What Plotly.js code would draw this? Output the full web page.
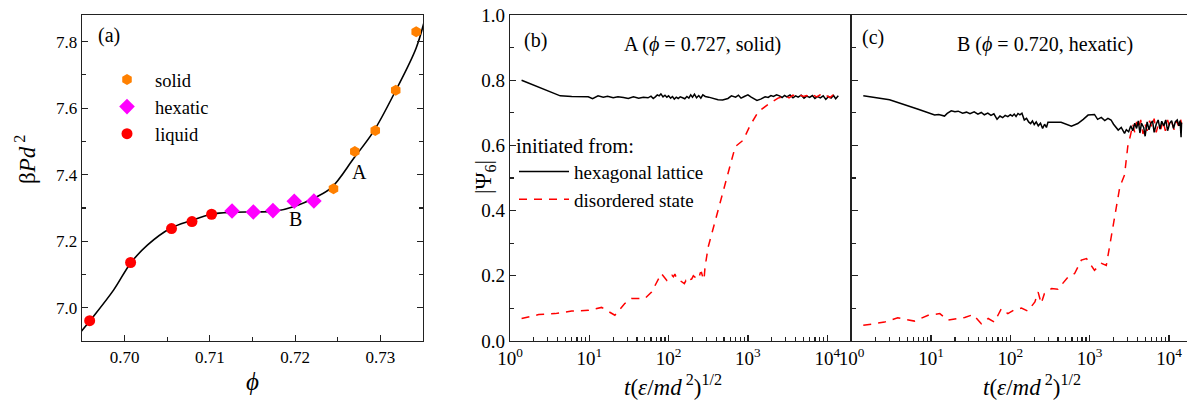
<!DOCTYPE html>
<html>
<head>
<meta charset="utf-8">
<script src="https://cdn.plot.ly/plotly-3.0.1.min.js"></script>
<style>html,body{margin:0;padding:0;background:#fff}#chart{width:1187px;height:401px}</style>
</head>
<body>
<div id="chart"></div>
<script>
// ---------- Panel (a) data ----------
const solidPhi   = [0.7245, 0.7270, 0.7294, 0.7318, 0.7342];
const solidP     = [7.358, 7.470, 7.533, 7.654, 7.830];
const hexaticPhi = [0.7126, 0.7151, 0.7174, 0.7199, 0.7222];
const hexaticP   = [7.291, 7.288, 7.292, 7.320, 7.321];
const liquidPhi  = [0.6959, 0.7007, 0.7055, 0.7079, 0.7102];
const liquidP    = [6.961, 7.136, 7.238, 7.259, 7.281];
const fitPhi = [0.6948, 0.6960, 0.6987, 0.7007, 0.7027, 0.7054, 0.7078, 0.7102, 0.7125, 0.7153, 0.7176, 0.7200, 0.7224, 0.7243, 0.7269, 0.7292, 0.7318, 0.7342, 0.7353];
const fitP   = [6.925, 6.963, 7.053, 7.134, 7.189, 7.239, 7.262, 7.281, 7.287, 7.288, 7.290, 7.305, 7.332, 7.362, 7.450, 7.530, 7.653, 7.781, 7.876];

// ---------- Panel (b) data: A (phi = 0.727, solid) ----------
const bHexT = [1.4, 2, 3, 4.3, 6, 8, 9.7, 11, 12.9, 15, 17, 20, 23, 27, 31, 36, 42, 48, 55, 60, 64, 68, 72, 76, 80, 85, 90, 95, 100, 106, 112, 118, 125, 132, 140, 150, 160, 170, 180, 190, 200, 212, 225, 240, 255, 270, 290, 320, 360, 420, 480, 560, 620, 700, 760, 820, 900, 1000, 1100, 1200, 1300, 1450, 1650, 1800, 1950, 2100, 2300, 2500, 2700, 2900, 3100, 3400, 3700, 4000, 4300, 4700, 5100, 5500, 6000, 6500, 7000, 7600, 8200, 8900, 9600, 10400, 11200, 12000, 12800, 13800];
const bHexV = [0.800, 0.785, 0.768, 0.752, 0.750, 0.749, 0.749, 0.743, 0.752, 0.748, 0.751, 0.746, 0.749, 0.747, 0.744, 0.749, 0.745, 0.748, 0.746, 0.751, 0.744, 0.749, 0.755, 0.752, 0.758, 0.749, 0.754, 0.748, 0.752, 0.745, 0.750, 0.742, 0.748, 0.744, 0.749, 0.746, 0.743, 0.750, 0.745, 0.755, 0.748, 0.757, 0.746, 0.753, 0.745, 0.755, 0.750, 0.748, 0.744, 0.740, 0.739, 0.744, 0.752, 0.748, 0.754, 0.745, 0.750, 0.755, 0.748, 0.744, 0.738, 0.742, 0.749, 0.747, 0.753, 0.750, 0.755, 0.752, 0.747, 0.753, 0.749, 0.755, 0.746, 0.752, 0.748, 0.754, 0.745, 0.751, 0.747, 0.753, 0.744, 0.750, 0.746, 0.752, 0.741, 0.750, 0.745, 0.753, 0.743, 0.752];
const bDisT = [1.4, 2.3, 3.7, 6, 9.7, 14.3, 21, 28, 34, 50, 61, 78, 81, 95, 100, 105, 110, 115, 120, 126, 132, 140, 150, 158, 165, 175, 186, 195, 205, 214, 225, 235, 245, 251, 260, 270, 275, 280, 288, 316, 380, 468, 562, 692, 871, 1070, 1350, 1820, 2400, 2700, 3000, 3300, 3700, 4100, 4500, 5000, 5500, 6100, 6700, 7400, 8100, 8900, 9800, 10800, 11800, 13000, 13800];
const bDisV = [0.069, 0.081, 0.084, 0.092, 0.094, 0.103, 0.079, 0.115, 0.130, 0.130, 0.150, 0.196, 0.207, 0.186, 0.190, 0.200, 0.202, 0.197, 0.205, 0.193, 0.186, 0.185, 0.180, 0.176, 0.185, 0.178, 0.188, 0.190, 0.200, 0.196, 0.195, 0.205, 0.200, 0.209, 0.210, 0.195, 0.188, 0.190, 0.227, 0.289, 0.360, 0.442, 0.509, 0.596, 0.616, 0.662, 0.703, 0.727, 0.745, 0.748, 0.752, 0.746, 0.754, 0.749, 0.755, 0.750, 0.753, 0.747, 0.754, 0.749, 0.755, 0.748, 0.753, 0.747, 0.754, 0.749, 0.752];

// ---------- Panel (c) data: B (phi = 0.720, hexatic) ----------
const cHexT = [1.4, 3, 6.9, 9, 11.1, 12.5, 14.8, 16, 18, 20, 22, 25, 28, 31, 35, 39, 43, 47, 52, 57, 62, 68, 74, 80, 86, 93, 100, 106, 112, 118, 125, 132, 140, 150, 160, 170, 180, 190, 200, 212, 225, 240, 255, 270, 285, 298, 340, 436, 589, 708, 830, 955, 1150, 1260, 1400, 1550, 1700, 1860, 2000, 2290, 2500, 2750, 2900, 3100, 3300, 3500, 3700, 3900, 4100, 4300, 4500, 4800, 5000, 5300, 5600, 5900, 6200, 6500, 6900, 7300, 7700, 8100, 8600, 9100, 9600, 10200, 10800, 11400, 12000, 12700, 13300, 13800, 14200, 14400];
const cHexV = [0.752, 0.740, 0.711, 0.700, 0.693, 0.695, 0.690, 0.698, 0.706, 0.703, 0.705, 0.699, 0.702, 0.697, 0.703, 0.696, 0.701, 0.694, 0.699, 0.692, 0.697, 0.680, 0.690, 0.685, 0.692, 0.688, 0.694, 0.690, 0.696, 0.689, 0.698, 0.694, 0.699, 0.678, 0.683, 0.672, 0.667, 0.675, 0.664, 0.672, 0.660, 0.668, 0.652, 0.665, 0.655, 0.671, 0.671, 0.671, 0.659, 0.667, 0.680, 0.693, 0.695, 0.680, 0.686, 0.676, 0.683, 0.678, 0.665, 0.647, 0.655, 0.637, 0.648, 0.642, 0.660, 0.645, 0.668, 0.652, 0.675, 0.638, 0.668, 0.655, 0.628, 0.672, 0.648, 0.668, 0.675, 0.640, 0.665, 0.678, 0.650, 0.674, 0.660, 0.678, 0.645, 0.668, 0.676, 0.652, 0.672, 0.678, 0.660, 0.676, 0.625, 0.670];
const cDisT = [1.4, 2.6, 3.8, 6.2, 9.2, 12.9, 16.4, 26.6, 33.9, 43, 52.5, 63, 77, 93, 113, 138, 166, 204, 224, 245, 269, 331, 398, 537, 646, 785, 912, 1150, 1410, 1620, 1780, 2090, 2400, 2750, 3020, 3310, 3500, 3700, 3900, 4100, 4400, 4700, 5000, 5300, 5700, 6100, 6500, 6900, 7400, 7900, 8400, 9000, 9600, 10200, 10900, 11600, 12400, 13200, 14000, 14400];
const cDisV = [0.048, 0.058, 0.071, 0.061, 0.079, 0.084, 0.064, 0.072, 0.081, 0.053, 0.069, 0.058, 0.099, 0.084, 0.096, 0.101, 0.092, 0.120, 0.150, 0.115, 0.146, 0.161, 0.159, 0.197, 0.207, 0.248, 0.253, 0.217, 0.238, 0.232, 0.289, 0.391, 0.473, 0.509, 0.596, 0.637, 0.665, 0.640, 0.672, 0.650, 0.678, 0.635, 0.665, 0.645, 0.676, 0.655, 0.682, 0.640, 0.668, 0.650, 0.675, 0.645, 0.678, 0.655, 0.670, 0.648, 0.676, 0.660, 0.680, 0.665];

// tick labels
const phiTicks = [0.70, 0.71, 0.72, 0.73];
const pTicks = [7.0, 7.2, 7.4, 7.6, 7.8];
const psiTicks = [0.0, 0.2, 0.4, 0.6, 0.8, 1.0];
const tTickVals = [1, 10, 100, 1000, 10000];
const tTickText = ['10<sup>0</sup>', '10<sup>1</sup>', '10<sup>2</sup>', '10<sup>3</sup>', '10<sup>4</sup>'];
const tMinorVals = [2, 3, 4, 5, 6, 7, 8, 9, 20, 30, 40, 50, 60, 70, 80, 90, 200, 300, 400, 500, 600, 700, 800, 900, 2000, 3000, 4000, 5000, 6000, 7000, 8000, 9000, 20000];

// ---------- layout helpers ----------
const W = 1187, H = 401;
const fx = p => p / W;
const fy = p => 1 - p / H;
const FONT = "'Liberation Serif', 'Times New Roman', serif";
const AX = '#222';

const traces = [
  {x: fitPhi, y: fitP, mode: 'lines', line: {color: '#000', width: 1.6, shape: 'spline'}, showlegend: false, xaxis: 'x', yaxis: 'y', hoverinfo: 'skip'},
  {x: solidPhi, y: solidP, name: 'solid', mode: 'markers', marker: {symbol: 'hexagon', size: 11, color: '#FF8000'}, xaxis: 'x', yaxis: 'y', legend: 'legend'},
  {x: hexaticPhi, y: hexaticP, name: 'hexatic', mode: 'markers', marker: {symbol: 'diamond', size: 12, color: '#FF00FF'}, xaxis: 'x', yaxis: 'y', legend: 'legend'},
  {x: liquidPhi, y: liquidP, name: 'liquid', mode: 'markers', marker: {symbol: 'circle', size: 11, color: '#FF0000'}, xaxis: 'x', yaxis: 'y', legend: 'legend'},

  {x: bHexT, y: bHexV, name: 'hexagonal lattice', mode: 'lines', line: {color: '#000', width: 1.5}, xaxis: 'x2', yaxis: 'y2', legend: 'legend2'},
  {x: bDisT, y: bDisV, name: 'disordered state', mode: 'lines', line: {color: '#FF0000', width: 1.5, dash: '8px,7px'}, xaxis: 'x2', yaxis: 'y2', legend: 'legend2'},
  {x: cDisT, y: cDisV, mode: 'lines', line: {color: '#FF0000', width: 1.5, dash: '8px,7px'}, xaxis: 'x3', yaxis: 'y3', showlegend: false},
  {x: cHexT, y: cHexV, mode: 'lines', line: {color: '#000', width: 1.5}, xaxis: 'x3', yaxis: 'y3', showlegend: false}
];

const axBase = {
  showline: true, linecolor: AX, linewidth: 1.3, ticks: 'inside', ticklen: 6, tickwidth: 1.2, tickcolor: AX,
  showgrid: false, zeroline: false, tickfont: {family: FONT, size: 19, color: '#000'}
};
const logMinor = {ticks: 'inside', ticklen: 4, tickcolor: AX, tickvals: tMinorVals, showgrid: false};

const yDom = [1 - 341 / H, 1 - 15 / H];

const ann = (text, x, y, size, extra) => Object.assign({text: text, x: fx(x), y: fy(y), xref: 'paper', yref: 'paper',
  xanchor: 'center', yanchor: 'middle', showarrow: false, font: {family: FONT, size: size, color: '#000'}}, extra || {});

const layout = {
  width: W, height: H,
  margin: {l: 0, r: 0, t: 0, b: 0},
  paper_bgcolor: '#fff', plot_bgcolor: '#fff',
  font: {family: FONT, color: '#000'},
  xaxis: Object.assign({}, axBase, {domain: [fx(82), fx(423)], range: [0.695, 0.735], tickvals: phiTicks, tickformat: '.2f', mirror: true,
    tickfont: {family: FONT, size: 17, color: '#000'},
    minor: {ticks: 'inside', ticklen: 4, tickcolor: AX, dtick: 0.005, showgrid: false}, anchor: 'y'}),
  yaxis: Object.assign({}, axBase, {domain: yDom, range: [6.9, 7.88], tickvals: pTicks, tickformat: '.1f', mirror: 'ticks',
    tickfont: {family: FONT, size: 17, color: '#000'},
    minor: {ticks: 'inside', ticklen: 4, tickcolor: AX, dtick: 0.1, showgrid: false}, anchor: 'x'}),
  xaxis2: Object.assign({}, axBase, {domain: [fx(510), fx(851)], type: 'log', range: [0, 4.3], tickvals: tTickVals, ticktext: tTickText, mirror: true,
    minor: logMinor, anchor: 'y2'}),
  yaxis2: Object.assign({}, axBase, {domain: yDom, range: [0, 1], tickvals: psiTicks, tickformat: '.1f', mirror: true,
    minor: {ticks: 'inside', ticklen: 4, tickcolor: AX, dtick: 0.1, showgrid: false}, anchor: 'x2'}),
  xaxis3: Object.assign({}, axBase, {domain: [fx(851.7), 1], type: 'log', range: [0, 4.227], tickvals: tTickVals, ticktext: tTickText, mirror: true,
    minor: logMinor, anchor: 'y3'}),
  yaxis3: Object.assign({}, axBase, {domain: yDom, range: [0, 1], tickvals: psiTicks, showticklabels: false, mirror: false,
    minor: {ticks: 'inside', ticklen: 4, tickcolor: AX, dtick: 0.1, showgrid: false}, anchor: 'x3'}),
  legend: {x: fx(99), y: fy(61), xanchor: 'left', yanchor: 'top', bgcolor: 'rgba(0,0,0,0)',
    font: {family: FONT, size: 18.5, color: '#000'}, itemwidth: 46, tracegroupgap: 0},
  legend2: {x: fx(514), y: fy(126), xanchor: 'left', yanchor: 'top', bgcolor: 'rgba(0,0,0,0)',
    title: {text: 'initiated from:', font: {family: FONT, size: 20.5, color: '#000'}},
    font: {family: FONT, size: 19, color: '#000'}, itemwidth: 50},
  annotations: [
    ann('(a)', 109, 36, 20),
    ann('A', 359, 172, 20),
    ann('B', 295, 219, 20),
    ann('(b)', 535, 40, 20),
    ann('A (<i>ϕ</i> = 0.727, solid)', 702, 44, 20),
    ann('(c)', 873, 38, 20),
    ann('B (<i>ϕ</i> = 0.720, hexatic)', 1045, 44, 20),
    ann('β<i>Pd</i><sup> 2</sup>', 25, 160, 23, {textangle: -90}),
    ann('<i>ϕ</i>', 253, 381, 25),
    ann('|Ψ<sub>6</sub>|', 485, 177, 23, {textangle: -90}),
    ann('<i>t</i>(<i>ε</i>/<i>md</i><sup> 2</sup>)<sup>1/2</sup>', 673, 385, 23),
    ann('<i>t</i>(<i>ε</i>/<i>md</i><sup> 2</sup>)<sup>1/2</sup>', 1032, 385, 23)
  ],
  showlegend: true
};

Plotly.newPlot('chart', traces, layout, {displayModeBar: false, staticPlot: true});
</script>
</body>
</html>
